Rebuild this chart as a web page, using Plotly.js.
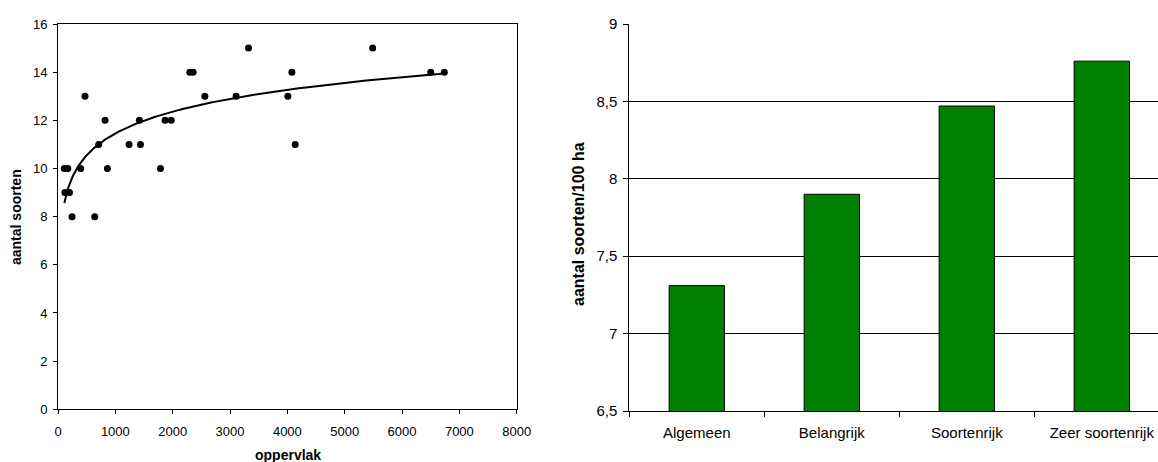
<!DOCTYPE html>
<html><head><meta charset="utf-8">
<script src="https://cdn.plot.ly/plotly-3.0.1.min.js"></script>
<style>html,body{margin:0;padding:0;background:#fff;overflow:hidden}#chart{width:1158px;height:462px}</style>
</head><body><div id="chart"></div>
<script>
// Left panel: species count vs. area
const oppervlak = [110, 170, 120, 200, 245, 396, 471, 641, 710, 821, 862, 1240, 1420, 1438, 1787, 1868, 1973, 2299, 2357, 2561, 3107, 3323, 4009, 4079, 4137, 5488, 6500, 6738];
const aantalSoorten = [10, 10, 9, 9, 8, 10, 13, 8, 11, 12, 10, 11, 12, 11, 10, 12, 12, 14, 14, 13, 13, 15, 13, 14, 11, 15, 14, 14];

// Right panel: species per 100 ha by category
const categorieen = ['Algemeen', 'Belangrijk', 'Soortenrijk', 'Zeer soortenrijk'];
const soortenPer100ha = [7.31, 7.90, 8.47, 8.76];

// Logarithmic trend line (least squares on ln(x)), as the spreadsheet trendline
function logFit(xs, ys) {
  const n = xs.length;
  const L = xs.map(Math.log);
  const mL = L.reduce((a, b) => a + b, 0) / n;
  const mY = ys.reduce((a, b) => a + b, 0) / n;
  let sxy = 0, sxx = 0;
  for (let i = 0; i < n; i++) { sxy += (L[i] - mL) * (ys[i] - mY); sxx += (L[i] - mL) * (L[i] - mL); }
  const a = sxy / sxx;
  return { a: a, b: mY - a * mL };
}
const fit = logFit(oppervlak, aantalSoorten);
const xMin = Math.min(...oppervlak), xMax = Math.max(...oppervlak);
const trendX = [], trendY = [];
for (let i = 0; i <= 200; i++) {
  const x = Math.exp(Math.log(xMin) + (Math.log(xMax) - Math.log(xMin)) * i / 200);
  trendX.push(x); trendY.push(fit.a * Math.log(x) + fit.b);
}

const FONT = 'Liberation Sans, Arial, sans-serif';

const data = [
  { type: 'scatter', mode: 'lines', x: trendX, y: trendY, xaxis: 'x', yaxis: 'y',
    line: { color: '#000', width: 2 }, hoverinfo: 'skip', showlegend: false },
  { type: 'scatter', mode: 'markers', x: oppervlak, y: aantalSoorten, xaxis: 'x', yaxis: 'y',
    marker: { color: '#000', size: 7 }, showlegend: false, cliponaxis: false },
  { type: 'bar', x: categorieen, y: soortenPer100ha, xaxis: 'x2', yaxis: 'y2',
    width: 0.41, marker: { color: '#008000', line: { color: '#000', width: 1 } }, showlegend: false }
];

const W = 1100, H = 387;
const layout = {
  width: 1158, height: 462,
  margin: { l: 58, r: 0, t: 24, b: 51, pad: 0 },
  paper_bgcolor: '#fff', plot_bgcolor: 'rgba(0,0,0,0)',
  separators: ',.',
  font: { family: FONT, color: '#000', size: 13 },
  showlegend: false,
  xaxis: {
    domain: [0, (516.7 - 58) / W], range: [0, 8000], dtick: 1000, tick0: 0,
    showline: true, linecolor: '#000', linewidth: 1, mirror: true,
    ticks: 'outside', ticklen: 4, tickcolor: '#000', showgrid: false, zeroline: false,
    ticklabelstandoff: 6,
    tickfont: { size: 13, family: FONT, color: '#000' }, anchor: 'y', fixedrange: true
  },
  yaxis: {
    domain: [1.7 / H, 1], range: [0, 16], dtick: 2, tick0: 0,
    showline: true, linecolor: '#000', linewidth: 1, mirror: true,
    ticks: 'outside', ticklen: 4, tickcolor: '#000', showgrid: false, zeroline: false,
    ticklabelstandoff: 3,
    tickfont: { size: 13, family: FONT, color: '#000' }, anchor: 'x', fixedrange: true
  },
  xaxis2: {
    domain: [(629.3 - 58) / W, 1], range: [-0.5, 3.5 - (1169.3 - 1158) / 135],
    type: 'category', showline: true, linecolor: '#000', linewidth: 1,
    ticks: 'outside', tickson: 'boundaries', ticklen: 5, tickcolor: '#000',
    showgrid: false, zeroline: false, ticklabelstandoff: 8,
    tickfont: { size: 15, family: FONT, color: '#000' }, anchor: 'y2', fixedrange: true
  },
  yaxis2: {
    domain: [0, 1], range: [6.5, 9], dtick: 0.5, tick0: 6.5,
    showline: true, linecolor: '#000', linewidth: 1,
    ticks: 'outside', ticklen: 5, tickcolor: '#000',
    showgrid: true, gridcolor: '#000', gridwidth: 1, zeroline: false,
    ticklabelstandoff: 3,
    tickfont: { size: 15, family: FONT, color: '#000' }, anchor: 'x2', fixedrange: true
  },
  annotations: [
    { text: '<b>aantal soorten</b>', xref: 'paper', yref: 'paper', x: (16 - 58) / W, y: (411 - 217) / H,
      textangle: -90, showarrow: false, xanchor: 'center', yanchor: 'middle', font: { size: 14, family: FONT, color: '#000' } },
    { text: '<b>oppervlak</b>', xref: 'paper', yref: 'paper', x: (287.5 - 58) / W, y: (411 - 455) / H,
      showarrow: false, xanchor: 'center', yanchor: 'middle', font: { size: 14, family: FONT, color: '#000' } },
    { text: '<b>aantal soorten/100 ha</b>', xref: 'paper', yref: 'paper', x: (579 - 58) / W, y: (411 - 224) / H,
      textangle: -90, showarrow: false, xanchor: 'center', yanchor: 'middle', font: { size: 16, family: FONT, color: '#000' } }
  ]
};

Plotly.newPlot('chart', data, layout, { displayModeBar: false, staticPlot: true });
</script>
</body></html>
